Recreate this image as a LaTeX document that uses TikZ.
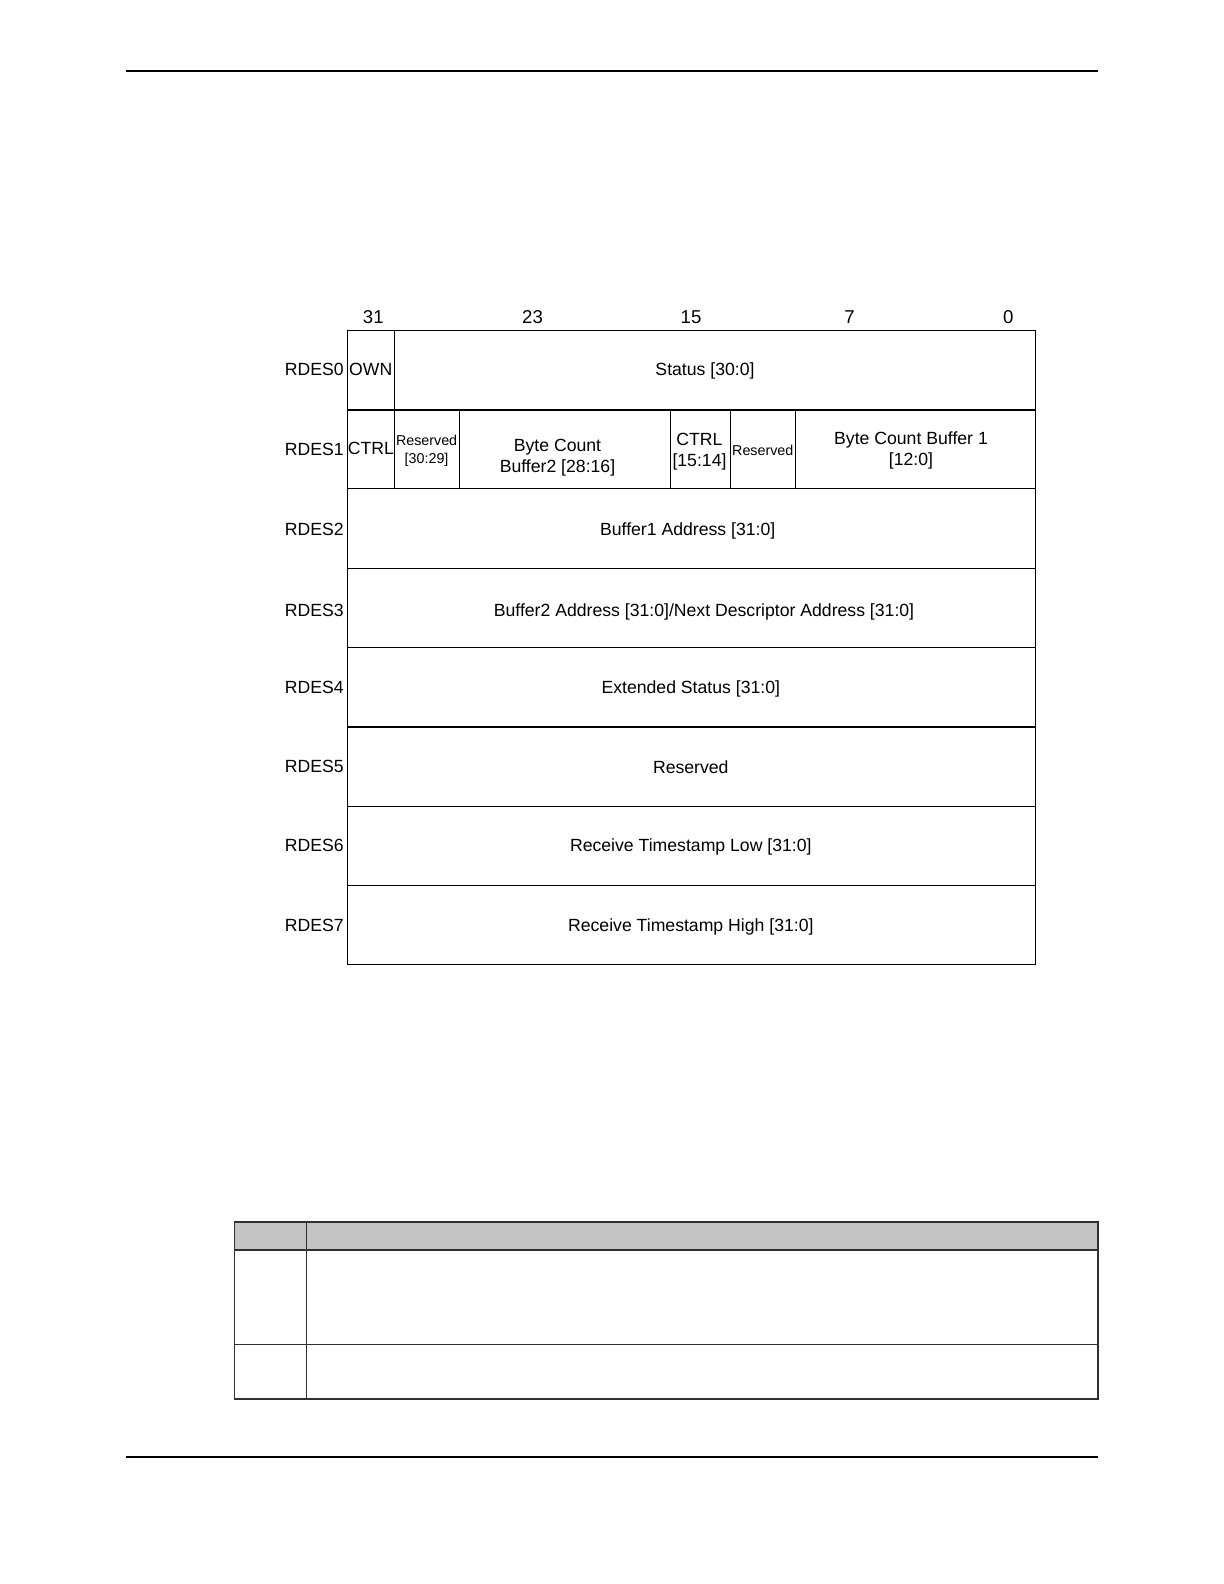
\documentclass[tikz,border=0pt]{standalone}
\usepackage{fontspec}
\setmainfont{Liberation Sans}
\definecolor{hdrgray}{HTML}{C4C4C4}
\definecolor{tblline}{HTML}{303030}
\begin{document}
\begin{tikzpicture}[x=0.5pt,y=-0.5pt,
  cell/.style={draw=black,line width=0.6pt},
  lbl/.style={font=\fontsize{8.82}{10.6}\selectfont, inner sep=0pt, align=center},
  smalllbl/.style={font=\fontsize{7.15}{9.1}\selectfont, inner sep=0pt, align=center},
  bitnum/.style={font=\fontsize{9.3}{11}\selectfont, inner sep=0pt},
  rowlbl/.style={font=\fontsize{8.82}{10.6}\selectfont, inner sep=0pt, anchor=east},
  pagerule/.style={line width=1pt},
  tbl/.style={draw=tblline,line width=0.8pt}]
\useasboundingbox[fill=white] (0,0) rectangle (1224,1584);

% page rules
\coordinate (tl) at (126,70.7);
\coordinate (tr) at (1098,70.7);
\coordinate (bl) at (126,1457.3);
\coordinate (br) at (1098,1457.3);
\draw[pagerule] (tl) -- (tr);
\draw[pagerule] (bl) -- (br);

% bit numbers
\node[bitnum] (b31) at (373.3,317) {31};
\node[bitnum] (b23) at (532.5,317) {23};
\node[bitnum] (b15) at (691,317) {15};
\node[bitnum] (b7)  at (849.5,317) {7};
\node[bitnum] (b0)  at (1008.3,317) {0};

% register frame and row separators
\draw[cell] (347.3,330.2) rectangle (1035.7,964.8);
\foreach \yy in {410,488.8,568.2,647.4,727,806.5,885.7}
  \draw[cell] (347.3,\yy) -- (1035.7,\yy);

% RDES0 divider
\draw[cell] (394.3,330.2) -- (394.3,410);
% RDES1 dividers
\draw[cell] (394.3,410) -- (394.3,488.8);
\draw[cell] (459.3,410) -- (459.3,488.8);
\draw[cell] (670.5,410) -- (670.5,488.8);
\draw[cell] (730.3,410) -- (730.3,488.8);
\draw[cell] (795.3,410) -- (795.3,488.8);

% row labels
\node[rowlbl] (l0) at (344,369.6) {RDES0};
\node[rowlbl] (l1) at (344,449.4) {RDES1};
\node[rowlbl] (l2) at (344,529.2) {RDES2};
\node[rowlbl] (l3) at (344,610.5) {RDES3};
\node[rowlbl] (l4) at (344,687.7) {RDES4};
\node[rowlbl] (l5) at (344,766.5) {RDES5};
\node[rowlbl] (l6) at (344,845.5) {RDES6};
\node[rowlbl] (l7) at (344,925) {RDES7};

% RDES0 texts
\node[lbl] (own) at (370.8,369.6) {OWN};
\node[lbl] (status) at (705,370.8) {Status [30:0]};

% RDES1 texts
\node[lbl] (ctrl1) at (370.8,448.6) {CTRL};
\node[smalllbl] (res1) at (426.6,450.4) {Reserved\\{}[30:29]};
\node[lbl] (bc2) at (557.5,457.5) {Byte Count\\Buffer2 [28:16]};
\node[lbl] (ctrl2) at (699.5,451.5) {CTRL\\{}[15:14]};
\node[smalllbl] (res2) at (762.8,450.6) {Reserved};
\node[lbl] (bc1) at (911,450.5) {Byte Count Buffer 1\\{}[12:0]};

% other rows
\node[lbl] (buf1) at (687.7,530.5) {Buffer1 Address [31:0]};
\node[lbl] (buf2) at (704,612.3) {Buffer2 Address [31:0]/Next Descriptor Address [31:0]};
\node[lbl] (ext) at (690.8,689) {Extended Status [31:0]};
\node[lbl] (res5) at (690.8,767) {Reserved};
\node[lbl] (tsl) at (690.8,846.8) {Receive Timestamp Low [31:0]};
\node[lbl] (tsh) at (690.8,926.5) {Receive Timestamp High [31:0]};

% table below
\fill[hdrgray] (234.3,1221.7) rectangle (1098,1250);
\draw[tbl] (234.3,1221.7) rectangle (1098,1399);
\draw[tbl] (234.3,1250) -- (1098,1250);
\draw[tbl] (234.3,1344.3) -- (1098,1344.3);
\draw[tbl] (306.3,1221.7) -- (306.3,1399);
\end{tikzpicture}
\end{document}
